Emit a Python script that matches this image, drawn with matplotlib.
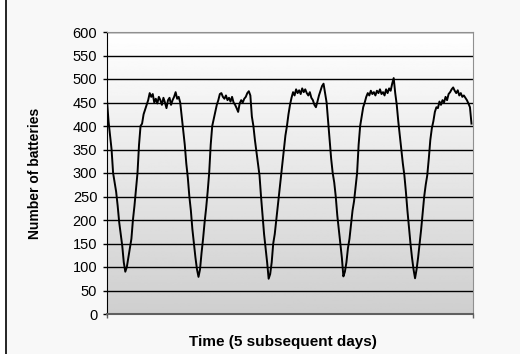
import numpy as np
import matplotlib
matplotlib.use("Agg")
from matplotlib import pyplot as plt
from matplotlib.patches import Rectangle

plt.rcParams['font.family'] = ['Liberation Sans', 'DejaVu Sans']

# Battery count, sampled every half hour, one list per day
DAY_1 = [455, 410, 380, 350, 300, 280, 260, 230, 195, 170, 145, 110,
         90, 100, 120, 140, 160, 200, 230, 265, 300, 360, 400, 405,
         425, 435, 445, 455, 470, 462, 468, 450, 458, 448, 462, 455,
         445, 460, 450, 438, 455, 460, 445, 455, 462, 472, 458, 462]
DAY_2 = [450, 420, 390, 360, 320, 290, 250, 220, 180, 150, 120, 95,
         79, 95, 130, 160, 195, 225, 260, 300, 360, 400, 415, 430,
         445, 455, 468, 470, 462, 458, 465, 455, 460, 452, 462, 450,
         445, 438, 430, 448, 455, 450, 458, 462, 470, 474, 465, 420]
DAY_3 = [400, 370, 345, 320, 295, 250, 210, 170, 140, 110, 75, 85,
         110, 150, 170, 200, 230, 260, 290, 320, 350, 380, 400, 425,
         445, 460, 472, 465, 478, 470, 476, 468, 480, 472, 478, 470,
         465, 472, 460, 455, 445, 440, 452, 465, 475, 485, 490, 470]
DAY_4 = [450, 410, 370, 330, 300, 280, 250, 210, 180, 150, 120, 80,
         90, 110, 140, 160, 190, 220, 240, 270, 300, 360, 400, 420,
         440, 450, 462, 470, 465, 475, 468, 472, 465, 475, 470, 478,
         468, 472, 465, 478, 470, 480, 475, 490, 502, 470, 445, 410]
DAY_5 = [380, 350, 320, 295, 260, 220, 185, 150, 120, 95, 76, 95,
         120, 150, 180, 215, 250, 275, 295, 330, 370, 395, 410, 430,
         440, 438, 452, 445, 455, 450, 462, 455, 468, 472, 478, 482,
         475, 470, 476, 465, 470, 462, 465, 460, 455, 448, 440, 405]

Y_TICKS = [0, 50, 100, 150, 200, 250, 300, 350, 400, 450, 500, 550, 600]


def main():
    counts = np.array(DAY_1 + DAY_2 + DAY_3 + DAY_4 + DAY_5)
    hours = np.arange(len(counts)) * 0.5

    fig = plt.figure(figsize=(5.2, 3.54), dpi=100, facecolor='white')

    # chart frame, cut off on the right and bottom
    frame = Rectangle((6 / 520, -0.2), 1.2, 1.2 + (1 - 5 / 354),
                      transform=fig.transFigure, facecolor='#f8f8f8',
                      edgecolor='black', lw=1.2, zorder=-5)
    fig.patches.append(frame)

    ax = fig.add_axes([107 / 520, 1 - 314 / 354, 366 / 520, 282 / 354])
    ax.set_zorder(1)

    # grey gradient plot area
    shade = np.linspace(0.81, 1.0, 256)[:, None]
    ax.imshow(shade, cmap='gray', vmin=0, vmax=1, origin='lower',
              extent=[0, 120, 0, 600], aspect='auto', zorder=0)

    ax.plot(hours, counts, color='black', lw=1.4, zorder=3)

    ax.set_xlim(0, 120)
    ax.set_ylim(0, 600)
    ax.set_yticks(Y_TICKS)
    ax.set_xticks([0, 120])
    ax.set_xticklabels([])
    ax.yaxis.grid(True, color='black', lw=1)
    ax.tick_params(axis='y', length=3, width=1, pad=4, labelsize=10.5)
    ax.tick_params(axis='x', length=3, width=1, color='#606060')

    ax.spines['left'].set_color('black')
    ax.spines['bottom'].set_color('#606060')
    ax.spines['bottom'].set_linewidth(1.5)
    ax.spines['top'].set_color('#909090')
    ax.spines['right'].set_color('#909090')

    ax.set_xlabel('Time (5 subsequent days)', fontsize=11, fontweight='bold')
    ax.xaxis.set_label_coords(0.4795, -0.075)
    ax.set_ylabel('Number of batteries', fontsize=10, fontweight='bold',
                  labelpad=22)

    fig.savefig('out.png', dpi=100, facecolor=fig.get_facecolor())


if __name__ == '__main__':
    main()
